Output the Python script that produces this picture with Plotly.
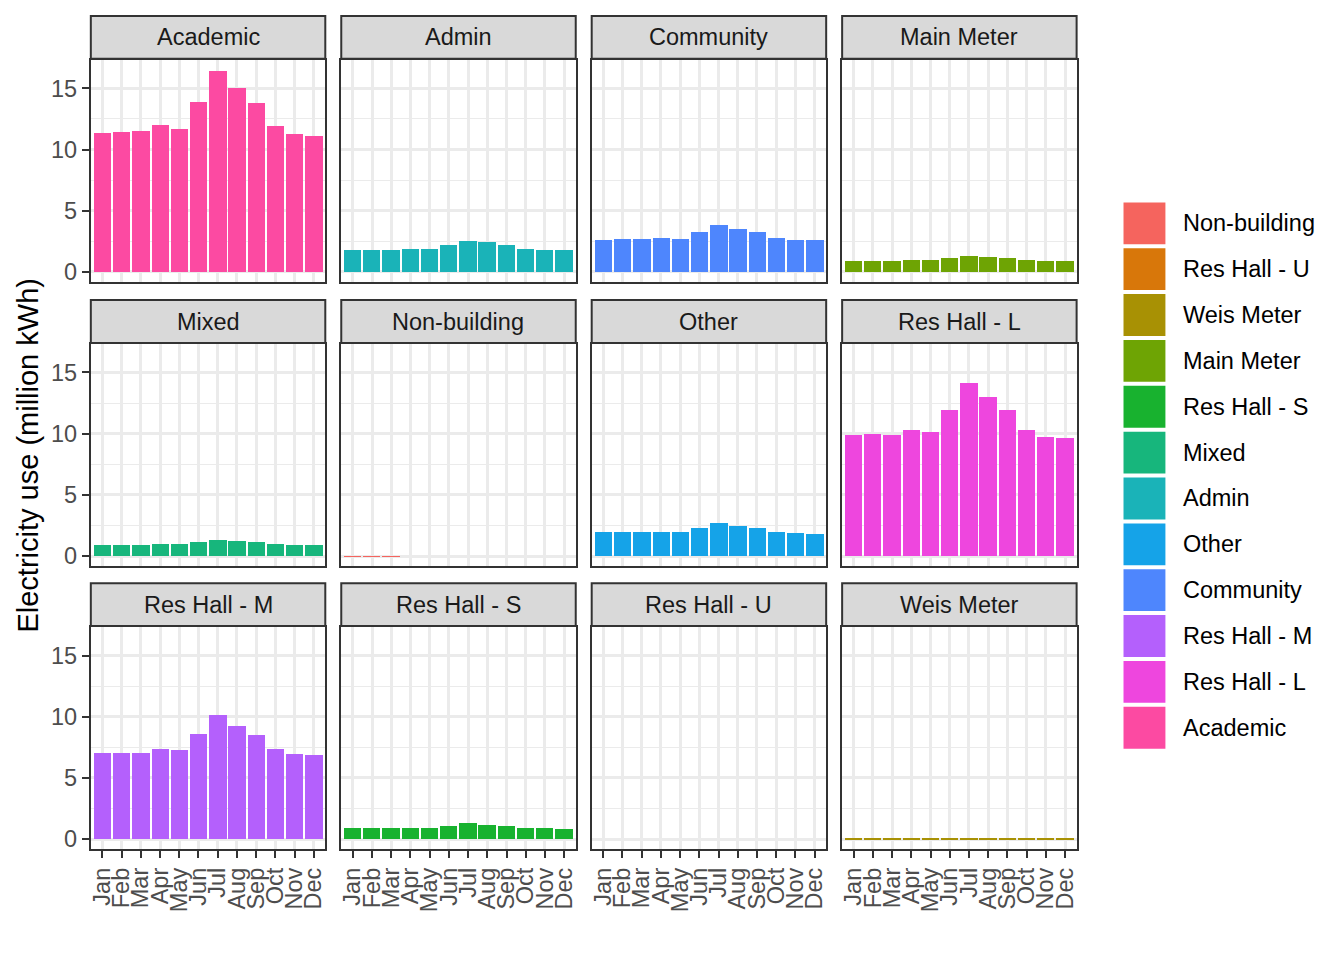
import plotly.graph_objects as go
from plotly.subplots import make_subplots

months = ["Jan", "Feb", "Mar", "Apr", "May", "Jun", "Jul", "Aug", "Sep", "Oct", "Nov", "Dec"]

academic = [11.38, 11.46, 11.52, 12.00, 11.73, 13.87, 16.46, 15.06, 13.85, 11.93, 11.31, 11.09]
admin = [1.84, 1.84, 1.82, 1.90, 1.86, 2.19, 2.57, 2.43, 2.19, 1.90, 1.82, 1.80]
community = [2.65, 2.67, 2.67, 2.81, 2.73, 3.24, 3.89, 3.54, 3.24, 2.81, 2.62, 2.59]
main_meter = [0.92, 0.92, 0.92, 0.97, 0.97, 1.13, 1.32, 1.21, 1.13, 0.97, 0.89, 0.89]
mixed = [0.94, 0.94, 0.94, 1.02, 1.02, 1.15, 1.34, 1.24, 1.15, 1.02, 0.92, 0.92]
non_building = [0.01, 0.012, 0.012, 0.0, 0.0, 0.0, 0.0, 0.0, 0.0, 0.0, 0.0, 0.0]
other = [1.94, 1.94, 1.94, 1.97, 1.94, 2.27, 2.67, 2.43, 2.27, 1.94, 1.86, 1.84]
res_hall_l = [9.88, 9.96, 9.90, 10.34, 10.12, 11.96, 14.17, 12.96, 11.96, 10.34, 9.77, 9.64]
res_hall_m = [7.02, 7.07, 7.07, 7.40, 7.26, 8.55, 10.16, 9.27, 8.50, 7.35, 6.99, 6.88]
res_hall_s = [0.89, 0.89, 0.89, 0.94, 0.94, 1.10, 1.29, 1.18, 1.08, 0.92, 0.89, 0.84]
res_hall_u = [0.0, 0.0, 0.0, 0.0, 0.0, 0.0, 0.0, 0.0, 0.0, 0.0, 0.0, 0.0]
weis_meter = [0.09, 0.09, 0.09, 0.09, 0.09, 0.10, 0.10, 0.10, 0.10, 0.10, 0.09, 0.09]

facets = ["Academic", "Admin", "Community", "Main Meter", "Mixed", "Non-building",
          "Other", "Res Hall - L", "Res Hall - M", "Res Hall - S", "Res Hall - U", "Weis Meter"]
facet_values = [academic, admin, community, main_meter, mixed, non_building,
                other, res_hall_l, res_hall_m, res_hall_s, res_hall_u, weis_meter]

legend_order = ["Non-building", "Res Hall - U", "Weis Meter", "Main Meter", "Res Hall - S", "Mixed",
                "Admin", "Other", "Community", "Res Hall - M", "Res Hall - L", "Academic"]
palette = {
    "Non-building": "#F5645E",
    "Res Hall - U": "#D8770A",
    "Weis Meter": "#A89104",
    "Main Meter": "#6EA404",
    "Res Hall - S": "#18B22F",
    "Mixed": "#17B67C",
    "Admin": "#1AB3B8",
    "Other": "#15A3E8",
    "Community": "#4E86FD",
    "Res Hall - M": "#B460FC",
    "Res Hall - L": "#EE46DE",
    "Academic": "#FC4AA2",
}

W, H = 1344, 960
OFF = 8  # page body margin offset
FONT = "Liberation Sans, Arial, Helvetica, sans-serif"

def px(x):
    return (x - OFF) / W

def py(y):
    return 1 - (y - OFF) / H

col_px = [(89, 324), (340, 575), (591, 826), (842, 1077)]
row_px = [(60, 283), (345, 568), (629, 852)]
strip_px = [(16, 59), (301, 344), (585, 628)]

fig = make_subplots(rows=3, cols=4)

for i, (name, vals) in enumerate(zip(facets, facet_values)):
    r, c = i // 4 + 1, i % 4 + 1
    fig.add_trace(go.Bar(x=months, y=vals, name=name, marker_color=palette[name],
                         marker_line_width=0, width=0.9, showlegend=False),
                  row=r, col=c)

shapes = []
annotations = []
for i in range(12):
    r, c = i // 4, i % 4
    ax = "" if i == 0 else str(i + 1)
    x0, x1 = col_px[c]
    y0, y1 = row_px[r]
    fig.layout["xaxis" + ax].update(
        domain=[px(x0), px(x1)], range=[-0.6, 11.6], type="category",
        categoryorder="array", categoryarray=months,
        tickmode="array", tickvals=months, ticktext=months,
        showgrid=True, gridcolor="#EBEBEB", gridwidth=2.6,
        showline=True, mirror=True, linecolor="#333333", linewidth=2,
        ticks="outside" if r == 2 else "", ticklen=7, tickwidth=2, tickcolor="#333333",
        showticklabels=(r == 2), tickangle=-90,
        tickfont=dict(family=FONT, size=23.5, color="#4D4D4D"),
        zeroline=False, fixedrange=True,
    )
    fig.layout["yaxis" + ax].update(
        domain=[py(y1), py(y0)], range=[-0.83, 17.33],
        tickmode="array", tickvals=[0, 5, 10, 15],
        minor=dict(tickmode="array", tickvals=[2.5, 7.5, 12.5, 17.5], showgrid=True,
                   gridcolor="#EBEBEB", gridwidth=1.3, ticks=""),
        showgrid=True, gridcolor="#EBEBEB", gridwidth=2.6,
        showline=True, mirror=True, linecolor="#333333", linewidth=2,
        ticks="outside" if c == 0 else "", ticklen=7, tickwidth=2, tickcolor="#333333",
        showticklabels=(c == 0),
        tickfont=dict(family=FONT, size=23.5, color="#4D4D4D"),
        zeroline=False, fixedrange=True,
    )
    s0, s1 = strip_px[r]
    shapes.append(dict(type="rect", xref="paper", yref="paper",
                       x0=px(x0), x1=px(x1), y0=py(s1), y1=py(s0),
                       fillcolor="#D9D9D9", line=dict(color="#333333", width=2), layer="above"))
    annotations.append(dict(text=facets[i], xref="paper", yref="paper",
                            x=px((x0 + x1) / 2), y=py((s0 + s1) / 2),
                            xanchor="center", yanchor="middle", showarrow=False,
                            font=dict(family=FONT, size=23.5, color="#1A1A1A")))

# y-axis title
annotations.append(dict(text="Electricity use (million kWh)", xref="paper", yref="paper",
                        x=px(26), y=py(456), textangle=-90, xanchor="center", yanchor="middle",
                        showarrow=False, font=dict(family=FONT, size=29, color="#000000")))

# legend (keys and labels)
key_left, key_size, key_step, key_top = 1124, 42, 46, 203
for j, name in enumerate(legend_order):
    t = key_top + j * key_step
    shapes.append(dict(type="rect", xref="paper", yref="paper",
                       x0=px(key_left), x1=px(key_left + key_size),
                       y0=py(t + key_size), y1=py(t),
                       fillcolor=palette[name], line=dict(width=0)))
    annotations.append(dict(text=name, xref="paper", yref="paper",
                            x=px(1182), y=py(t + key_size / 2), xanchor="left", yanchor="middle",
                            showarrow=False, font=dict(family=FONT, size=23.5, color="#000000")))

fig.update_layout(
    width=W, height=H, margin=dict(l=0, r=0, t=0, b=0),
    paper_bgcolor="white", plot_bgcolor="white",
    shapes=shapes, annotations=annotations, bargap=0, showlegend=False,
    font=dict(family=FONT),
)

fig.write_html("out.html")
